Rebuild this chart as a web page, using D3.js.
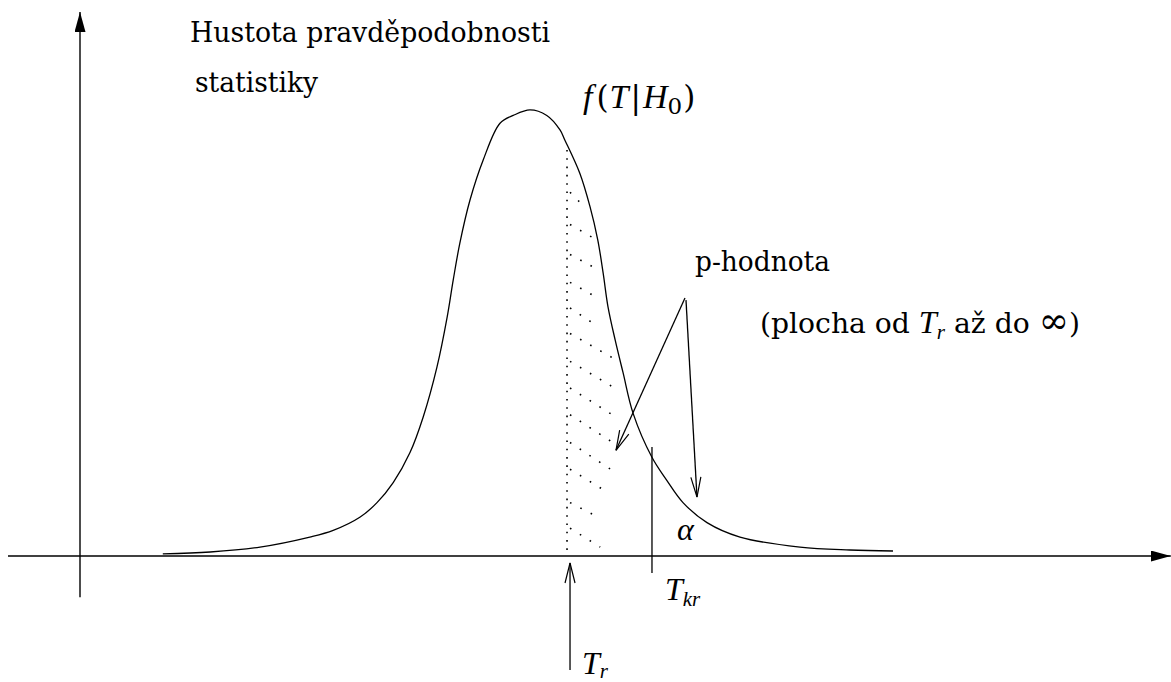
<!DOCTYPE html>
<html>
<head>
<meta charset="utf-8">
<script src="https://cdn.jsdelivr.net/npm/d3@7/dist/d3.min.js"></script>
<style>
  html, body { margin: 0; padding: 0; background: #fff; }
  svg { display: block; }
  svg text { font-family: "DejaVu Serif", serif; fill: #000; }
  .it { font-family: "Liberation Serif", "DejaVu Serif", serif; font-style: italic; }
</style>
</head>
<body>
<div id="chart"></div>
<script>
// ---------------------------------------------------------------------------
// Values (T on the horizontal axis, density on vertical)
// ---------------------------------------------------------------------------
const curveT = [-6.12, -5.33, -4.5, -3.67, -3.28, -2.83, -2.55, -2.28, -2.0, -1.78,
                -1.55, -1.38, -1.28, -1.17, -1.0, -0.78, -0.5, -0.28, 0, 0.28,
                0.5, 0.58, 0.83, 1.0, 1.13, 1.22, 1.3, 1.42, 1.55, 1.72,
                2.03, 2.28, 2.55, 2.95, 3.5, 4.5, 5.33, 6.05];
const curveF = [0.002, 0.0036, 0.008, 0.017, 0.023, 0.035, 0.048, 0.066, 0.093, 0.125,
                0.17, 0.215, 0.248, 0.281, 0.32, 0.356, 0.389, 0.396, 0.401, 0.396,
                0.383, 0.374, 0.344, 0.314, 0.284, 0.254, 0.224, 0.194, 0.165, 0.128,
                0.089, 0.068, 0.048, 0.03, 0.017, 0.008, 0.0054, 0.0045];

const tR = 0.617;          // observed statistic T_r
const tKr = 2.033;         // critical value T_kr
const tRTop = 0.365;       // top of the dotted line at T_r

// hatching of the p-value area: each row starts on the T_r line
const hatchStartF = [0.329, 0.300, 0.273, 0.248, 0.225, 0.202, 0.177, 0.153, 0.129, 0.104, 0.080, 0.050, 0.027];
const hatchEndT   = [0.83, 1.05, 1.08, 1.03, 1.03, 1.38, 1.38, 1.37, 1.38, 1.37, 1.30, 1.17, 1.17];
const hatchEndF   = [0.318, 0.286, 0.259, 0.235, 0.210, 0.178, 0.152, 0.127, 0.102, 0.077, 0.057, 0.034, 0.008];

// arrows from the "p-hodnota" label: [fromT, fromF, toT, toF]
const pArrows = [[2.583, 0.232, 1.433, 0.095],
                 [2.600, 0.230, 2.783, 0.053]];

const W = 1171, H = 682;

const svg = d3.select('#chart').append('svg')
  .attr('width', W).attr('height', H);

const x = d3.scaleLinear().domain([-8.8, 10.7]).range([2, 1172]);
const y = d3.scaleLinear().domain([0, 0.4]).range([556, 111]);

// Arrow markers
const defs = svg.append('defs');
defs.append('marker').attr('id', 'solid')
  .attr('viewBox', '0 0 20 11').attr('refX', 20).attr('refY', 5.5)
  .attr('markerWidth', 20).attr('markerHeight', 11)
  .attr('markerUnits', 'userSpaceOnUse').attr('orient', 'auto')
  .append('path').attr('d', 'M0,0 L20,5.5 L0,11 Z').attr('fill', '#000');
defs.append('marker').attr('id', 'open')
  .attr('viewBox', '0 0 22 12').attr('refX', 21).attr('refY', 6)
  .attr('markerWidth', 22).attr('markerHeight', 12)
  .attr('markerUnits', 'userSpaceOnUse').attr('orient', 'auto')
  .append('path').attr('d', 'M1,1 L21,6 L1,11')
  .attr('fill', 'none').attr('stroke', '#000').attr('stroke-width', 1.2);

const seg = (t0, f0, t1, f1) => `M${x(t0)},${y(f0)}L${x(t1)},${y(f1)}`;

// Axes
svg.append('path').attr('d', seg(-7.5, -0.037, -7.5, 0.489))
  .attr('stroke', '#000').attr('stroke-width', 1.4).attr('marker-end', 'url(#solid)');
svg.append('path').attr('d', seg(-8.7, 0, 10.68, 0))
  .attr('stroke', '#000').attr('stroke-width', 1.5).attr('marker-end', 'url(#solid)');

// Density curve
const pts = curveT.map((t, i) => [t, curveF[i]]);
const line = d3.line().x(d => x(d[0])).y(d => y(d[1])).curve(d3.curveCatmullRom.alpha(0.5));
svg.append('path').attr('d', line(pts))
  .attr('fill', 'none').attr('stroke', '#000').attr('stroke-width', 1.3);

// Dotted line at T_r and hatching
svg.append('path').attr('d', seg(tR, tRTop, tR, 0))
  .attr('stroke', '#000').attr('stroke-width', 1.6).attr('stroke-dasharray', '1.6 6.7');
svg.selectAll('.hatch').data(hatchStartF).join('path')
  .attr('class', 'hatch')
  .attr('d', (f, i) => seg(tR + 0.05, f - 0.002, hatchEndT[i], hatchEndF[i]))
  .attr('stroke', '#000').attr('stroke-width', 1.6).attr('stroke-dasharray', '1.6 10');

// Critical value line
svg.append('path').attr('d', seg(tKr, 0.098, tKr, -0.0153))
  .attr('stroke', '#000').attr('stroke-width', 1.3);

// Arrow pointing at T_r from below
svg.append('path').attr('d', seg(tR + 0.05, -0.1025, tR + 0.05, -0.0063))
  .attr('stroke', '#000').attr('stroke-width', 1.3).attr('marker-end', 'url(#open)');

// Arrows from p-hodnota
svg.selectAll('.parrow').data(pArrows).join('path')
  .attr('class', 'parrow')
  .attr('d', d => seg(d[0], d[1], d[2], d[3]))
  .attr('stroke', '#000').attr('stroke-width', 1.3).attr('marker-end', 'url(#open)');

// Labels
const fs = 28, sub = 21;
const label = (px, py) => svg.append('text').attr('x', px).attr('y', py)
  .attr('font-size', fs);

label(190, 42).attr('textLength', 360).attr('lengthAdjust', 'spacingAndGlyphs')
  .text('Hustota pravděpodobnosti');
label(195, 92).attr('textLength', 123).attr('lengthAdjust', 'spacingAndGlyphs')
  .text('statistiky');

const fLab = label(583, 108);
fLab.append('tspan').attr('class', 'it').attr('font-size', 34).text('f');
fLab.append('tspan').attr('dx', 4).attr('font-size', 31).text('(');
fLab.append('tspan').attr('class', 'it').attr('font-size', 34).attr('dx', 1).text('T');
fLab.append('tspan').attr('font-size', 31).attr('dx', 2).text('|');
fLab.append('tspan').attr('class', 'it').attr('font-size', 34).attr('dx', 2).text('H');
fLab.append('tspan').attr('font-size', 23).attr('dy', 6).text('0');
fLab.append('tspan').attr('dy', -6).attr('dx', 1).attr('font-size', 31).text(')');

label(695, 271).attr('textLength', 135).attr('lengthAdjust', 'spacingAndGlyphs')
  .text('p-hodnota');

const pl = label(760, 333).attr('textLength', 320).attr('lengthAdjust', 'spacingAndGlyphs');
pl.append('tspan').text('(plocha od ');
pl.append('tspan').attr('class', 'it').attr('font-size', 32).text('T');
pl.append('tspan').attr('font-size', sub).attr('class', 'it').attr('dy', 6).text('r');
pl.append('tspan').attr('dy', -6).text(' až do ');
pl.append('tspan').attr('font-size', 36).text('∞');
pl.append('tspan').text(')');

label(677, 540).attr('class', 'it').attr('font-size', 32).text('α');

const tk = label(665, 600).attr('font-size', 32);
tk.append('tspan').attr('class', 'it').text('T');
tk.append('tspan').attr('class', 'it').attr('font-size', sub).attr('dy', 6).text('kr');

const tr = label(582, 674).attr('font-size', 32);
tr.append('tspan').attr('class', 'it').text('T');
tr.append('tspan').attr('class', 'it').attr('font-size', sub).attr('dy', 4).text('r');
</script>
</body>
</html>
